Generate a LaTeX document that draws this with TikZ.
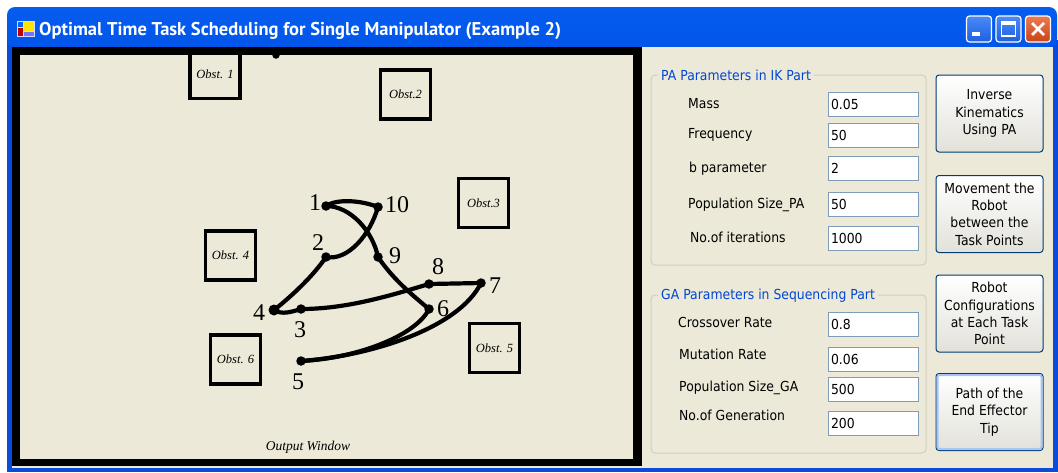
\documentclass[tikz,border=0pt]{standalone}
\usepackage{fontspec}
\usepackage{graphicx}
\setmainfont{Liberation Serif}
\newfontfamily\uifont[FakeStretch=0.9]{DejaVu Sans}
\newfontfamily\captionfont{PT Sans}

% Luna-style window colours
\definecolor{client}{HTML}{ECE9D8}
\definecolor{edgeblue}{HTML}{0A4BDC}
\definecolor{tbA}{HTML}{0046D2}
\definecolor{tbB}{HTML}{0055E8}
\definecolor{tbC}{HTML}{065CEE}
\definecolor{tbD}{HTML}{3A88F6}
\definecolor{tbE}{HTML}{6AA8FF}
\definecolor{gframe}{HTML}{D0D0BF}
\definecolor{gtitle}{HTML}{0046D5}
\definecolor{tbborder}{HTML}{7F9DB9}
\definecolor{btnborder}{HTML}{003C74}
\definecolor{btnbot}{HTML}{E2E1D9}
\definecolor{focusblue}{HTML}{A8C4F6}
\definecolor{capblueT}{HTML}{4A8BF6}
\definecolor{capblueB}{HTML}{1F5FE0}
\definecolor{capredT}{HTML}{EB7A52}
\definecolor{capredB}{HTML}{CC4318}

\pgfdeclareverticalshading{xptitle}{100bp}{color(0bp)=(tbA); color(15bp)=(tbB); color(75bp)=(tbC); color(90bp)=(tbD); color(100bp)=(tbE)}

\begin{document}
\begin{tikzpicture}[x=1pt,y=-1pt,
  obst/.style={draw, line width=3.2pt, minimum width=50pt, minimum height=49pt,
    inner sep=0pt, font=\itshape\fontsize{12.5}{14}\selectfont},
  taskpt/.style={circle, fill=black, inner sep=0pt, minimum size=9.5pt},
  tasklbl/.style={inner sep=0pt, font=\fontsize{24}{28}\selectfont},
  route/.style={line width=4.2pt, line cap=round, line join=round},
  uilabel/.style={anchor=base west, inner sep=0pt,
    font=\uifont\fontsize{13.8}{16}\selectfont},
  tbox/.style={draw=tbborder, fill=white, line width=1pt, minimum height=24pt,
    text width=84pt, inner xsep=3pt, inner ysep=0pt, align=left,
    font=\uifont\fontsize{13.8}{16}\selectfont},
  grouptitle/.style={anchor=base west, fill=client, inner xsep=3pt, inner ysep=2pt,
    text=gtitle, font=\uifont\fontsize{13.8}{16}\selectfont},
  groupframe/.style={draw=gframe, line width=1pt, rounded corners=4pt},
  xpbtn/.style={draw=btnborder, line width=1pt, rounded corners=3pt,
    top color=white, bottom color=btnbot, minimum width=107pt, minimum height=77pt,
    inner sep=0pt, align=center, font=\uifont\fontsize{13.8}{17.3}\selectfont},
  capbtn/.style={draw=white, line width=1.2pt, rounded corners=3pt,
    minimum width=25pt, minimum height=26pt, inner sep=0pt,
    top color=capblueT, bottom color=capblueB},
]
\useasboundingbox (0,0) rectangle (1058,472);
\fill[white] (0,0) rectangle (1058,472);

% ---------- window frame and title bar ----------
\fill[edgeblue] (7,40) rectangle (1058,472);
\shade[shading=xptitle, rounded corners=8pt] (7,47) -- (7,7) -- (1057,7) -- (1057,47) -- cycle;
\fill[client] (12,47) rectangle (1053,468);

% application icon
\fill[white!85!blue] (17,21) rectangle (35,37);
\fill[blue!60!cyan] (18,22) rectangle (23,27);
\fill[red!75!black] (18,28) rectangle (23,36);
\fill[yellow!85!orange] (24,22) rectangle (34,31);
\fill[blue!55] (24,32) rectangle (34,36);

\node[anchor=west, inner sep=0pt, text=white] (caption) at (39,30.5)
  {\resizebox{522pt}{!}{\captionfont\bfseries Optimal Time Task Scheduling for Single Manipulator (Example 2)}};

% caption buttons
\node[capbtn] (minbtn) at (979,29) {};
\node[capbtn] (maxbtn) at (1008.5,29) {};
\node[capbtn, top color=capredT, bottom color=capredB] (closebtn) at (1038,29) {};
\fill[white] ([shift={(-7,3)}]minbtn.center) rectangle ([shift={(1,6.5)}]minbtn.center);
\draw[white, line width=1.3pt] ([shift={(-7,-7)}]maxbtn.center) rectangle ([shift={(7,7)}]maxbtn.center);
\fill[white] ([shift={(-7.6,-7.6)}]maxbtn.center) rectangle ([shift={(7.6,-4)}]maxbtn.center);
\draw[white, line width=2.6pt] ([shift={(-6,-6)}]closebtn.center) -- ([shift={(6,6)}]closebtn.center)
  ([shift={(-6,6)}]closebtn.center) -- ([shift={(6,-6)}]closebtn.center);

% ---------- output window ----------
\fill[black] (12,47) rectangle (642,466);
\fill[client] (20,55) rectangle (633,459);

\node[obst] (o1) at (215,74) {Obst. 1};
\node[obst] (o2) at (405.5,94.5) {Obst.2};
\node[obst] (o3) at (483.5,203) {Obst.3};
\node[obst] (o4) at (230.5,255.5) {Obst. 4};
\node[obst] (o5) at (494.5,348) {Obst. 5};
\node[obst] (o6) at (235.5,359.5) {Obst. 6};

\node[taskpt, minimum size=7.5pt] (topdot) at (276,55) {};

% task points
\node[taskpt] (p1) at (326,206) {};
\node[taskpt] (p2) at (326,257) {};
\node[taskpt] (p3) at (301,309) {};
\node[taskpt, minimum size=11pt] (p4) at (274,310) {};
\node[taskpt] (p5) at (301,361) {};
\node[taskpt] (p6) at (429,309) {};
\node[taskpt] (p7) at (481,283) {};
\node[taskpt] (p8) at (429,284) {};
\node[taskpt] (p9) at (378,257) {};
\node[taskpt] (p10) at (378,207) {};

% end effector route through the task points
\draw[route] (p1.center) .. controls +(12,-8) and +(-15,-6) .. (p10.center);
\draw[route] (p10.center) .. controls +(-8,28) and +(22,4) .. (p2.center);
\draw[route] (p2.center) .. controls +(-12,18) and +(18,-14) .. (p4.center);
\draw[route] (p4.center) .. controls +(8,5) and +(-10,3) .. (p3.center);
\draw[route] (p3.center) .. controls +(45,0) and +(-40,12) .. (p8.center);
\draw[route] (p8.center) -- (p7.center);
\draw[route] (p7.center) .. controls +(-22,45) and +(70,-5) .. (p5.center);
\draw[route] (p5.center) .. controls +(60,-3) and +(-12,25) .. (p6.center);
\draw[route] (p6.center) .. controls +(-18,-15) and +(15,22) .. (p9.center);
\draw[route] (p9.center) .. controls +(-5,-25) and +(25,0) .. (p1.center);

% point numbers
\node[tasklbl] (n1) at (315,203) {1};
\node[tasklbl] (n2) at (318,243) {2};
\node[tasklbl] (n3) at (300,330) {3};
\node[tasklbl] (n4) at (259,313) {4};
\node[tasklbl] (n5) at (298,382) {5};
\node[tasklbl] (n6) at (443,309) {6};
\node[tasklbl] (n7) at (495,286) {7};
\node[tasklbl] (n8) at (438,267) {8};
\node[tasklbl] (n9) at (395,256) {9};
\node[tasklbl] (n10) at (397,205) {10};

\node[inner sep=0pt, font=\itshape\fontsize{13.5}{16}\selectfont] (outcap) at (308,447) {Output Window};

% ---------- PA parameter group ----------
\draw[groupframe] (651,75) rectangle (926,265);
\node[grouptitle] (pahead) at (658,80.5) {PA Parameters in IK Part};
\node[uilabel] (lmass) at (688,108.8) {Mass};
\node[uilabel] (lfreq) at (688,138.8) {Frequency};
\node[uilabel] (lb) at (689,172.8) {b parameter};
\node[uilabel] (lpopa) at (688,208.8) {Population Size\_PA};
\node[uilabel] (liter) at (690,242.8) {No.of iterations};
\node[tbox] (tmass) at (873,104) {0.05};
\node[tbox] (tfreq) at (873,135.5) {50};
\node[tbox] (tb) at (873,168) {2};
\node[tbox] (tpopa) at (873,204) {50};
\node[tbox] (titer) at (873,238) {1000};

% ---------- GA parameter group ----------
\draw[groupframe] (651,295) rectangle (926,453);
\node[grouptitle] (gahead) at (658,299.5) {GA Parameters in Sequencing Part};
\node[uilabel] (lcross) at (678,327.8) {Crossover Rate};
\node[uilabel] (lmut) at (679,359.8) {Mutation Rate};
\node[uilabel] (lpopg) at (679,391.8) {Population Size\_GA};
\node[uilabel] (lgen) at (679,420.8) {No.of Generation};
\node[tbox] (tcross) at (873,324) {0.8};
\node[tbox] (tmut) at (873,359) {0.06};
\node[tbox] (tpopg) at (873,389.5) {500};
\node[tbox] (tgen) at (873,423.5) {200};

% ---------- command buttons ----------
\node[xpbtn] (bik) at (989.5,113.5) {Inverse\\Kinematics\\Using PA};
\node[xpbtn] (bmove) at (989.5,214) {Movement the\\Robot\\between the\\Task Points};
\node[xpbtn] (bconf) at (989.5,313.5) {Robot\\Configurations\\at Each Task\\Point};
\node[xpbtn] (bpath) at (989.5,412) {Path of the\\End Effector\\Tip};
\draw[focusblue, line width=2pt, rounded corners=2pt]
  ([shift={(2,2)}]bpath.north west) rectangle ([shift={(-2,-2)}]bpath.south east);
\end{tikzpicture}
\end{document}
